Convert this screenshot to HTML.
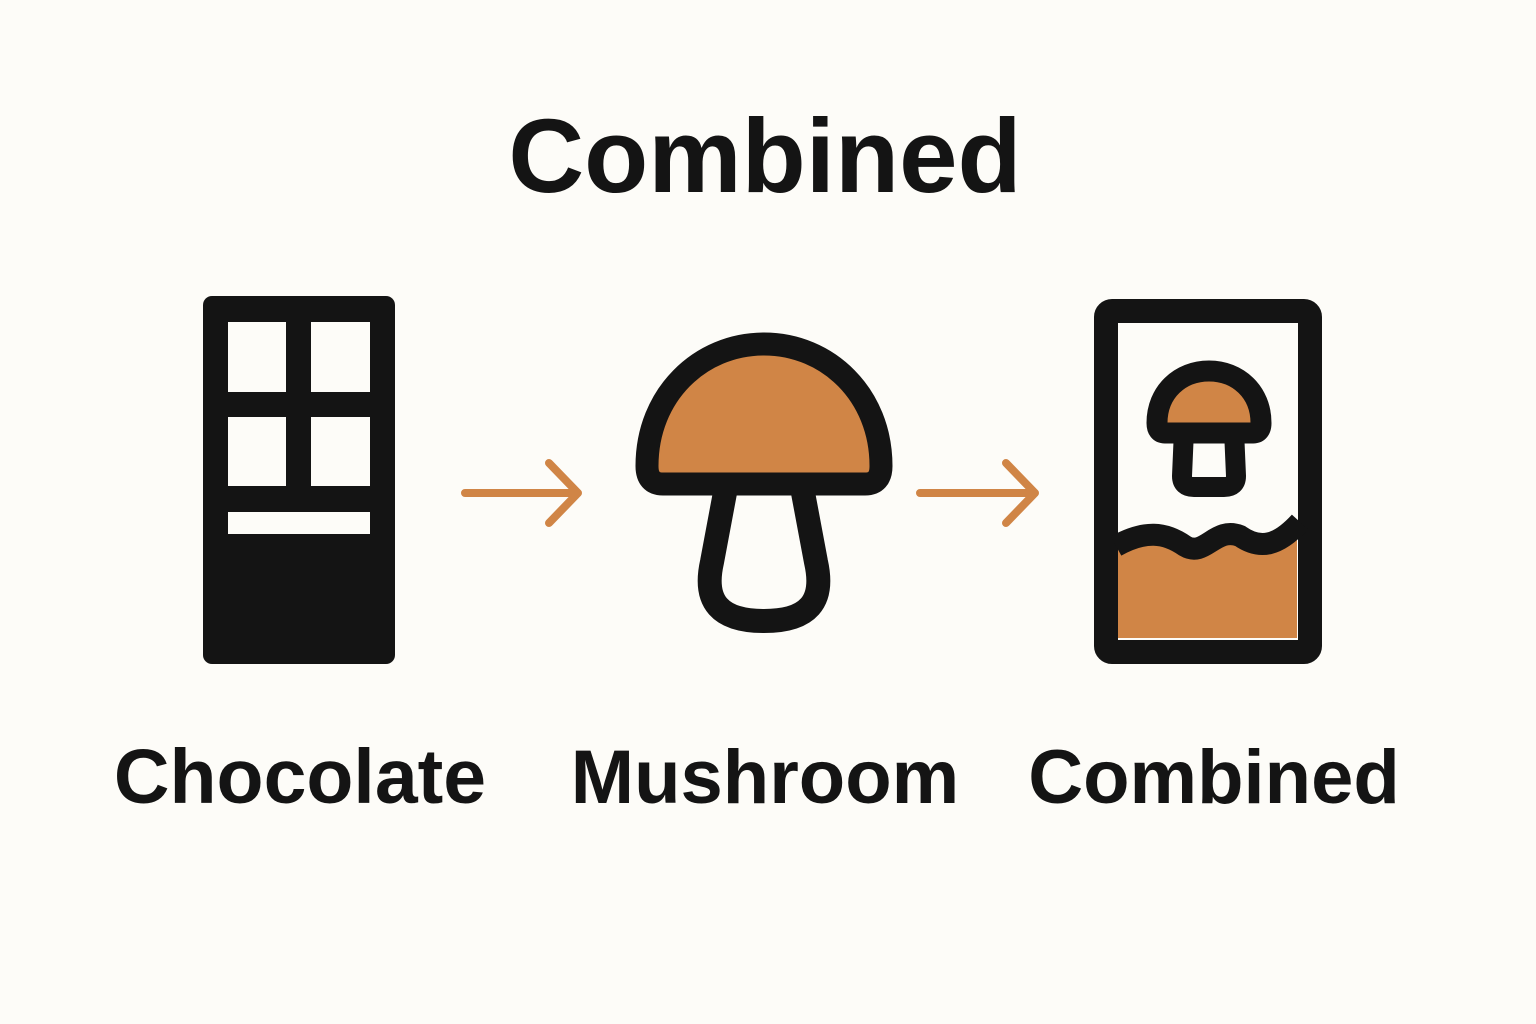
<!DOCTYPE html>
<html><head><meta charset="utf-8"><style>
html,body{margin:0;padding:0;background:#fdfcf8;}
svg{display:block}
text{font-family:"Liberation Sans",Arial,sans-serif;font-weight:bold;fill:#141414}
</style></head><body>
<svg width="1536" height="1024" viewBox="0 0 1536 1024" xmlns="http://www.w3.org/2000/svg">
<rect width="1536" height="1024" fill="#fdfcf8"/>
<text x="765" y="192" font-size="105" text-anchor="middle">Combined</text>

<rect x="203" y="296" width="192" height="368" rx="9" fill="#141414"/>
<rect x="228" y="322" width="58" height="70" fill="#fdfcf8"/>
<rect x="311" y="322" width="59" height="70" fill="#fdfcf8"/>
<rect x="228" y="417" width="58" height="69" fill="#fdfcf8"/>
<rect x="311" y="417" width="59" height="69" fill="#fdfcf8"/>
<rect x="228" y="512" width="142" height="22" fill="#fdfcf8"/>

<g stroke="#d08546" stroke-width="8" fill="none" stroke-linecap="round" stroke-linejoin="round">
<path d="M465 493 H578 M549 463 L578 493 L549 523"/>
<path d="M920 493 H1035 M1006 463 L1035 493 L1006 523"/>
</g>

<path d="M727 482 L712 562 C703 602 720 621 764 621 C808 621 825 602 816 562 L801 482" fill="none" stroke="#141414" stroke-width="24" stroke-linejoin="round"/>
<path d="M647 466 C647 395 700 344 764 344 C828 344 881 395 881 466 Q881 484 865 484 H663 Q647 484 647 466 Z" fill="#d08546" stroke="#141414" stroke-width="23" stroke-linejoin="round"/>

<rect x="1106" y="311" width="204" height="341" rx="6" fill="#fdfcf8" stroke="#141414" stroke-width="24"/>
<path d="M1118 548 C1150 535 1170 540 1195 552 C1215 542 1235 538 1260 552 C1275 545 1285 540 1297 530 V638 H1118 Z" fill="#d08546"/>
<path d="M1116 546 C1145 530 1165 532 1185 546 C1205 558 1215 526 1240 536 C1260 550 1278 546 1300 522" fill="none" stroke="#141414" stroke-width="22"/>
<path d="M1184 430 L1182 476 Q1182 487 1194 487 H1224 Q1236 487 1236 476 L1234 430" fill="none" stroke="#141414" stroke-width="20" stroke-linejoin="round"/>
<path d="M1157 423 C1157 392 1180 371 1209 371 C1238 371 1261 392 1261 423 Q1261 433 1253 433 H1165 Q1157 433 1157 423 Z" fill="#d08546" stroke="#141414" stroke-width="21" stroke-linejoin="round"/>

<text x="300" y="803" font-size="77" text-anchor="middle">Chocolate</text>
<text x="765" y="803" font-size="76" text-anchor="middle">Mushroom</text>
<text x="1214" y="803" font-size="76" text-anchor="middle">Combined</text>
</svg>
</body></html>
